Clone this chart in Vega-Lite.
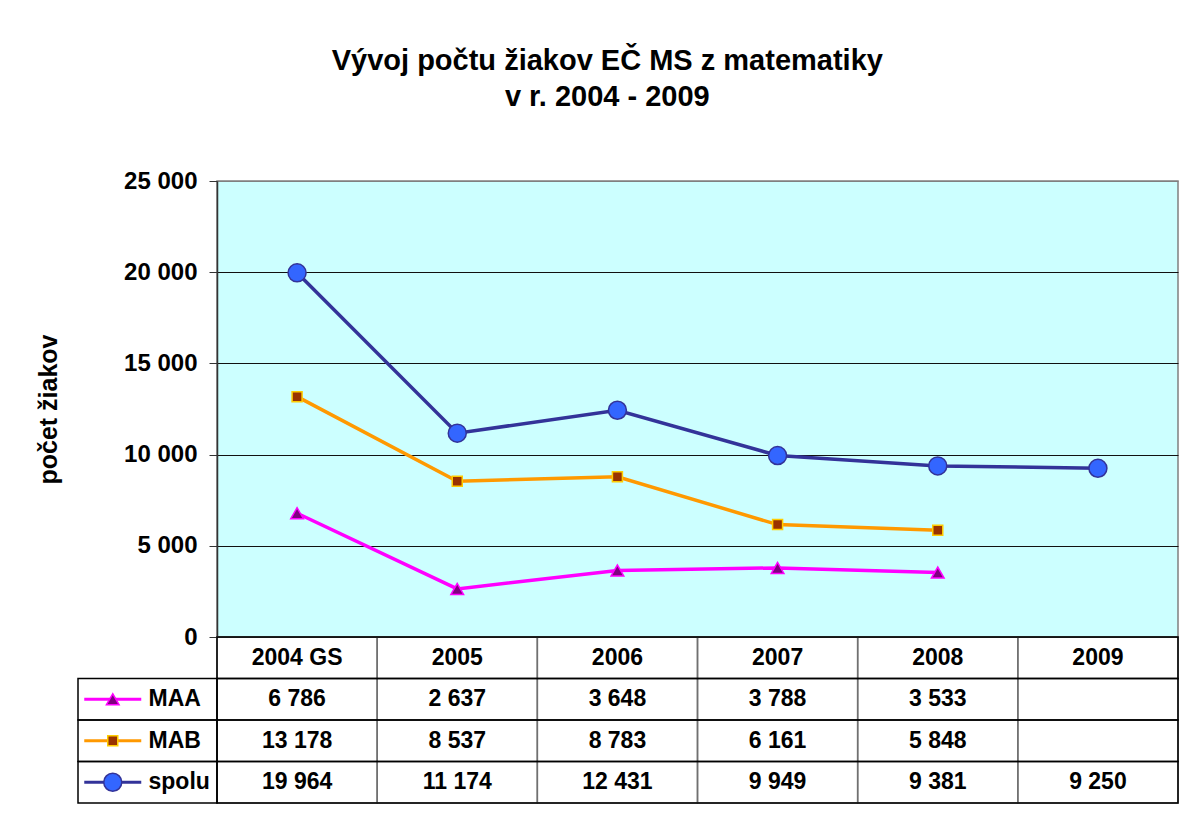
{
  "$schema": "https://vega.github.io/schema/vega-lite/v6.json",
  "padding": {"left": 35, "top": 47, "right": 5, "bottom": 5},
  "background": "white",
  "config": {
    "locale": {"number": {"decimal": ",", "thousands": " ", "grouping": [3], "currency": ["", " €"]}},
    "font": "Liberation Sans",
    "view": {"stroke": null},
    "concat": {"spacing": 0}
  },
  "bounds": "flush",
  "spacing": 0,
  "title": {
    "text": ["Vývoj počtu žiakov EČ MS z matematiky", "v r. 2004 - 2009"],
    "fontSize": 29, "fontWeight": "bold", "font": "Liberation Sans", "color": "black",
    "lineHeight": 36, "anchor": "middle", "offset": 56
  },
  "datasets": {
    "vals": [
      {"year": "2004 GS", "series": "MAA", "value": 6786},
      {"year": "2004 GS", "series": "MAB", "value": 13178},
      {"year": "2004 GS", "series": "spolu", "value": 19964},
      {"year": "2005", "series": "MAA", "value": 2637},
      {"year": "2005", "series": "MAB", "value": 8537},
      {"year": "2005", "series": "spolu", "value": 11174},
      {"year": "2006", "series": "MAA", "value": 3648},
      {"year": "2006", "series": "MAB", "value": 8783},
      {"year": "2006", "series": "spolu", "value": 12431},
      {"year": "2007", "series": "MAA", "value": 3788},
      {"year": "2007", "series": "MAB", "value": 6161},
      {"year": "2007", "series": "spolu", "value": 9949},
      {"year": "2008", "series": "MAA", "value": 3533},
      {"year": "2008", "series": "MAB", "value": 5848},
      {"year": "2008", "series": "spolu", "value": 9381},
      {"year": "2009", "series": "spolu", "value": 9250}
    ],
    "years": [
      {"year": "2004 GS"}, {"year": "2005"}, {"year": "2006"}, {"year": "2007"}, {"year": "2008"}, {"year": "2009"}
    ],
    "rows": [
      {"row": "header"}, {"row": "MAA"}, {"row": "MAB"}, {"row": "spolu"}
    ],
    "series": [
      {"series": "MAA"}, {"series": "MAB"}, {"series": "spolu"}
    ]
  },
  "vconcat": [
    {
      "width": 961,
      "height": 456,
      "data": {"name": "vals"},
      "view": {"fill": "#CCFFFF", "stroke": "#808080", "strokeWidth": 1.5},
      "encoding": {
        "x": {
          "field": "year", "type": "nominal",
          "scale": {"type": "band", "domain": ["2004 GS", "2005", "2006", "2007", "2008", "2009"], "paddingInner": 0, "paddingOuter": 0},
          "axis": null
        },
        "y": {
          "field": "value", "type": "quantitative",
          "scale": {"domain": [0, 25000], "nice": false, "zero": true},
          "axis": {
            "values": [0, 5000, 10000, 15000, 20000, 25000],
            "format": ",d",
            "title": "počet žiakov",
            "titleFont": "Liberation Sans", "titleFontSize": 25, "titleFontWeight": "bold", "titleColor": "black",
            "titlePadding": 62,
            "labelFont": "Liberation Sans", "labelFontSize": 24, "labelFontWeight": "bold", "labelColor": "black",
            "labelPadding": 12,
            "tickSize": 8, "tickColor": "#333333", "tickWidth": 1,
            "domainColor": "#333333", "domainWidth": 1.5,
            "grid": true,
            "gridColor": {"condition": {"test": "datum.value === 25000", "value": "#808080"}, "value": "#111111"},
            "gridWidth": 1, "gridOpacity": 1
          }
        }
      },
      "layer": [
        {
          "mark": {"type": "line", "strokeWidth": 3.5},
          "encoding": {
            "color": {
              "field": "series", "type": "nominal",
              "scale": {"domain": ["MAA", "MAB", "spolu"], "range": ["#FF00FF", "#FF9900", "#333399"]},
              "legend": null
            }
          }
        },
        {
          "mark": {"type": "point", "filled": true, "opacity": 1, "strokeWidth": 1.5},
          "encoding": {
            "shape": {"field": "series", "type": "nominal", "scale": {"domain": ["MAA", "MAB", "spolu"], "range": ["triangle-up", "square", "circle"]}, "legend": null},
            "fill": {"field": "series", "type": "nominal", "scale": {"domain": ["MAA", "MAB", "spolu"], "range": ["#800080", "#993300", "#3366FF"]}, "legend": null},
            "stroke": {"field": "series", "type": "nominal", "scale": {"domain": ["MAA", "MAB", "spolu"], "range": ["#FF00FF", "#FFCC00", "#333399"]}, "legend": null},
            "size": {"field": "series", "type": "nominal", "scale": {"type": "ordinal", "domain": ["MAA", "MAB", "spolu"], "range": [160, 100, 324]}, "legend": null}
          }
        }
      ]
    },
    {
      "width": 961,
      "height": 166,
      "resolve": {"scale": {"x": "independent"}},
      "layer": [
        {
          "data": {"name": "years"},
          "mark": {"type": "rect", "fill": "transparent", "stroke": "#707070", "strokeWidth": 1.5},
          "encoding": {
            "x": {"field": "year", "type": "nominal", "scale": {"type": "band", "domain": ["2004 GS", "2005", "2006", "2007", "2008", "2009"], "paddingInner": 0, "paddingOuter": 0}, "axis": null}
          }
        },
        {
          "data": {"name": "rows"},
          "mark": {"type": "rect", "fill": "transparent", "stroke": "black", "strokeWidth": 1.5},
          "encoding": {
            "y": {"field": "row", "type": "nominal", "scale": {"type": "band", "domain": ["header", "MAA", "MAB", "spolu"], "paddingInner": 0, "paddingOuter": 0}, "axis": null}
          }
        },
        {
          "data": {"name": "years"},
          "mark": {"type": "text", "fontSize": 23, "fontWeight": "bold", "color": "black", "baseline": "middle", "align": "center"},
          "encoding": {
            "x": {"field": "year", "type": "nominal", "scale": {"type": "band", "domain": ["2004 GS", "2005", "2006", "2007", "2008", "2009"], "paddingInner": 0, "paddingOuter": 0}, "axis": null},
            "y": {"datum": "header", "type": "nominal", "scale": {"type": "band", "domain": ["header", "MAA", "MAB", "spolu"], "paddingInner": 0, "paddingOuter": 0}, "axis": null},
            "text": {"field": "year"}
          }
        },
        {
          "data": {"name": "vals"},
          "mark": {"type": "text", "fontSize": 23, "fontWeight": "bold", "color": "black", "baseline": "middle", "align": "center"},
          "encoding": {
            "x": {"field": "year", "type": "nominal", "scale": {"type": "band", "domain": ["2004 GS", "2005", "2006", "2007", "2008", "2009"], "paddingInner": 0, "paddingOuter": 0}, "axis": null},
            "y": {"field": "series", "type": "nominal", "scale": {"type": "band", "domain": ["header", "MAA", "MAB", "spolu"], "paddingInner": 0, "paddingOuter": 0}, "axis": null},
            "text": {"field": "value", "type": "quantitative", "format": ",d"}
          }
        },
        {
          "data": {"name": "series"},
          "mark": {"type": "rect", "fill": "transparent", "stroke": "black", "strokeWidth": 1.5},
          "encoding": {
            "x": {"datum": "legend", "type": "nominal", "scale": {"type": "band", "domain": ["legend"], "range": [-139, 0], "paddingInner": 0, "paddingOuter": 0}, "axis": null},
            "y": {"field": "series", "type": "nominal", "scale": {"type": "band", "domain": ["header", "MAA", "MAB", "spolu"], "paddingInner": 0, "paddingOuter": 0}, "axis": null}
          }
        },
        {
          "data": {"name": "series"},
          "mark": {"type": "point", "filled": false, "opacity": 1, "strokeWidth": 3, "shape": "M-1,0L1,0", "size": 3249},
          "encoding": {
            "x": {"datum": "sym", "type": "nominal", "scale": {"type": "band", "domain": ["sym", "lab"], "range": [-139, 0], "paddingInner": 0, "paddingOuter": 0}, "axis": null},
            "y": {"field": "series", "type": "nominal", "scale": {"type": "band", "domain": ["header", "MAA", "MAB", "spolu"], "paddingInner": 0, "paddingOuter": 0}, "axis": null},
            "color": {"field": "series", "type": "nominal", "scale": {"domain": ["MAA", "MAB", "spolu"], "range": ["#FF00FF", "#FF9900", "#333399"]}, "legend": null}
          }
        },
        {
          "data": {"name": "series"},
          "mark": {"type": "point", "filled": true, "opacity": 1, "strokeWidth": 1.5},
          "encoding": {
            "x": {"datum": "sym", "type": "nominal", "scale": {"type": "band", "domain": ["sym", "lab"], "range": [-139, 0], "paddingInner": 0, "paddingOuter": 0}, "axis": null},
            "y": {"field": "series", "type": "nominal", "scale": {"type": "band", "domain": ["header", "MAA", "MAB", "spolu"], "paddingInner": 0, "paddingOuter": 0}, "axis": null},
            "shape": {"field": "series", "type": "nominal", "scale": {"domain": ["MAA", "MAB", "spolu"], "range": ["triangle-up", "square", "circle"]}, "legend": null},
            "fill": {"field": "series", "type": "nominal", "scale": {"domain": ["MAA", "MAB", "spolu"], "range": ["#800080", "#993300", "#3366FF"]}, "legend": null},
            "stroke": {"field": "series", "type": "nominal", "scale": {"domain": ["MAA", "MAB", "spolu"], "range": ["#FF00FF", "#FFCC00", "#333399"]}, "legend": null},
            "size": {"field": "series", "type": "nominal", "scale": {"type": "ordinal", "domain": ["MAA", "MAB", "spolu"], "range": [160, 100, 324]}, "legend": null}
          }
        },
        {
          "data": {"name": "series"},
          "mark": {"type": "text", "fontSize": 23, "fontWeight": "bold", "color": "black", "baseline": "middle", "align": "left", "dx": 1},
          "encoding": {
            "x": {"datum": "lab", "type": "nominal", "bandPosition": 0, "scale": {"type": "band", "domain": ["sym", "lab"], "range": [-139, 0], "paddingInner": 0, "paddingOuter": 0}, "axis": null},
            "y": {"field": "series", "type": "nominal", "scale": {"type": "band", "domain": ["header", "MAA", "MAB", "spolu"], "paddingInner": 0, "paddingOuter": 0}, "axis": null},
            "text": {"field": "series"}
          }
        }
      ]
    }
  ]
}
